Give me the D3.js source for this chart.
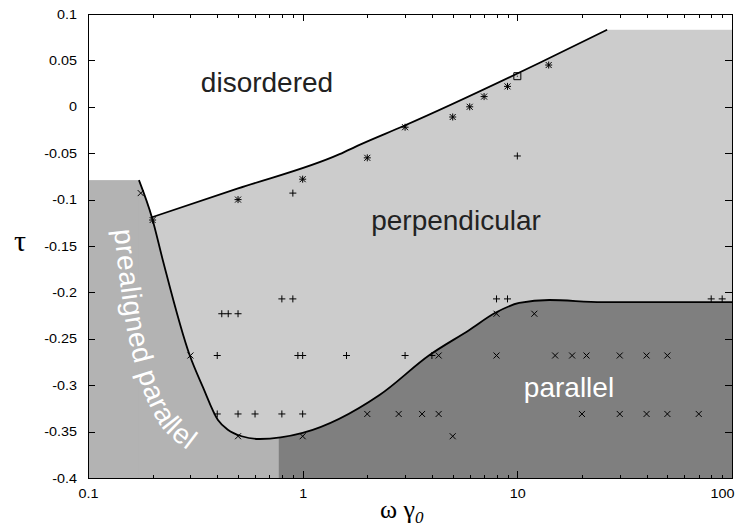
<!DOCTYPE html>
<html>
<head>
<meta charset="utf-8">
<script src="https://cdn.jsdelivr.net/npm/d3@7"></script>
<style>
  body { margin: 0; background: #fff; }
  text { font-family: "Liberation Sans", Arial, sans-serif; }
</style>
</head>
<body>
<script>
    // axis ticks
    const xTicks = [0.1, 1, 10, 100];
    const xTickLabels = ["0.1", "1", "10", "100"];
    const xMinor = [0.2, 0.3, 0.4, 0.5, 0.6, 0.7, 0.8, 0.9, 2, 3, 4, 5, 6, 7, 8, 9, 20, 30, 40, 50, 60, 70, 80, 90];
    const yTicks = [-0.4, -0.35, -0.3, -0.25, -0.2, -0.15, -0.1, -0.05, 0, 0.05, 0.1];
    const yTickLabels = ["-0.4", "-0.35", "-0.3", "-0.25", "-0.2", "-0.15", "-0.1", "-0.05", "0", "0.05", "0.1"];

    // phase boundaries (omega*gamma0, tau)
    const upperBoundary = [[0.1985, -0.119], [0.5, -0.088], [1.486, -0.051], [1.84, -0.041], [2.95, -0.0207], [12.65, 0.0472], [26.2, 0.083]];
    const upperPlateau = 0.083;
    const lowerBoundary = [[0.1727, -0.079], [0.199, -0.12], [0.223, -0.165], [0.298, -0.268], [0.343, -0.302], [0.403, -0.3375],
        [0.448, -0.348], [0.52, -0.355], [0.63, -0.358], [1.0, -0.3515], [2.28, -0.3106], [3.9, -0.2675], [5.98, -0.2405],
        [7.9, -0.222], [10.2, -0.2114], [14.1, -0.2082], [24.8, -0.2104], [100, -0.2104]];
    const prealignedTop = -0.079;
    const parallelLeft = 0.774;

    // simulation points
    const plusPts = [[0.9, -0.093], [10, -0.053], [0.8, -0.207], [0.9, -0.207], [8, -0.207], [9, -0.207], [80, -0.207], [90, -0.207],
        [0.42, -0.223], [0.45, -0.223], [0.5, -0.223], [0.4, -0.268], [0.95, -0.268], [1, -0.268], [1.6, -0.268], [3, -0.268], [4, -0.268],
        [0.4, -0.331], [0.5, -0.331], [0.6, -0.331], [0.8, -0.331], [1, -0.331]];
    const crossPts = [[0.176, -0.093], [0.3, -0.268], [0.5, -0.355], [1, -0.355], [5, -0.355],
        [2, -0.331], [2.8, -0.331], [3.6, -0.331], [4.3, -0.331], [20, -0.331], [30, -0.331], [40, -0.331], [50, -0.331], [70, -0.331],
        [4.3, -0.268], [8, -0.268], [15, -0.268], [18, -0.268], [21, -0.268], [30, -0.268], [40, -0.268], [50, -0.268],
        [8, -0.223], [12, -0.223]];
    const starPts = [[0.2, -0.122], [0.5, -0.1], [1, -0.078], [2, -0.055], [3, -0.022], [5, -0.011], [6, 0], [7, 0.011], [9, 0.022], [14, 0.045]];
    const squarePts = [[10, 0.033]];

    // baseline of the curved label along the prealigned boundary
    const prealignedLabelPath = [[0.1321, -0.1328], [0.1424, -0.1974], [0.1535, -0.2459], [0.1672, -0.2815], [0.1901, -0.3181], [0.2257, -0.3483], [0.2981, -0.372]];

    const width = 746, height = 527;
    const x = d3.scaleLog().domain([0.1, 100]).range([88, 732]);
    const y = d3.scaleLinear().domain([-0.4, 0.1]).range([478, 14]);

    const svg = d3.select('body').append('svg').attr('width', width).attr('height', height);
    const defs = svg.append('defs');
    defs.append('clipPath').attr('id', 'plot-clip')
        .append('rect').attr('x', x(0.1)).attr('y', y(0.1)).attr('width', x(100) - x(0.1)).attr('height', y(-0.4) - y(0.1));
    defs.append('clipPath').attr('id', 'parallel-clip')
        .append('rect').attr('x', x(parallelLeft)).attr('y', y(0.1)).attr('width', x(100) - x(parallelLeft)).attr('height', y(-0.4) - y(0.1));

    const g = svg.append('g').attr('clip-path', 'url(#plot-clip)');

    // perpendicular region
    const underUpper = d3.area().x(d => x(d[0])).y0(y(-0.4)).y1(d => y(d[1])).curve(d3.curveMonotoneX);
    g.append('path')
        .attr('d', underUpper(upperBoundary))
        .attr('fill', '#cccccc');
    const plateauStart = x(upperBoundary[upperBoundary.length - 1][0]) - 1.5;
    g.append('rect')
        .attr('x', plateauStart).attr('y', y(upperPlateau))
        .attr('width', x(100) - plateauStart).attr('height', y(-0.4) - y(upperPlateau))
        .attr('fill', '#cccccc');

    // prealigned parallel region
    const underLower = d3.area().x(d => x(d[0])).y0(y(-0.4)).y1(d => y(d[1])).curve(d3.curveMonotoneX);
    g.append('rect')
        .attr('x', x(0.1)).attr('y', y(prealignedTop))
        .attr('width', x(lowerBoundary[0][0]) - x(0.1) + 0.5).attr('height', y(-0.4) - y(prealignedTop))
        .attr('fill', '#b3b3b3');
    g.append('path').attr('d', underLower(lowerBoundary)).attr('fill', '#b3b3b3');

    // parallel region
    g.append('path').attr('d', underLower(lowerBoundary)).attr('fill', '#7f7f7f')
        .attr('clip-path', 'url(#parallel-clip)');

    // boundary lines
    g.append('path')
        .attr('d', d3.line().x(d => x(d[0])).y(d => y(d[1])).curve(d3.curveMonotoneX)(upperBoundary))
        .attr('fill', 'none').attr('stroke', '#000').attr('stroke-width', 1.8);
    g.append('path')
        .attr('d', d3.line().x(d => x(d[0])).y(d => y(d[1])).curve(d3.curveMonotoneX)(lowerBoundary))
        .attr('fill', 'none').attr('stroke', '#000').attr('stroke-width', 1.8);

    // markers
    const plusD = s => `M${-s},0H${s}M0,${-s}V${s}`;
    const crossD = s => `M${-s},${-s}L${s},${s}M${-s},${s}L${s},${-s}`;
    function drawMarks(data, d) {
        g.append('g').selectAll('path').data(data).enter().append('path')
            .attr('transform', p => `translate(${x(p[0])},${y(p[1])})`)
            .attr('d', d)
            .attr('fill', 'none').attr('stroke', '#000').attr('stroke-width', 1);
    }
    drawMarks(plusPts, plusD(3.5));
    drawMarks(crossPts, crossD(3));
    drawMarks(starPts, plusD(3.5) + crossD(3));
    drawMarks(squarePts, 'M-3.5,-3.5H3.5V3.5H-3.5Z M-0.5,0H0.5');

    // region labels
    g.append('text').attr('x', 267).attr('y', 92).attr('text-anchor', 'middle')
        .attr('font-size', 28).attr('fill', '#222').text('disordered');
    g.append('text').attr('x', 456).attr('y', 230).attr('text-anchor', 'middle')
        .attr('font-size', 28).attr('fill', '#222').text('perpendicular');
    g.append('text').attr('x', 569).attr('y', 397).attr('text-anchor', 'middle')
        .attr('font-size', 28).attr('fill', '#fff').text('parallel');
    const labelPath = defs.append('path').attr('id', 'prealigned-path')
        .attr('d', d3.line().x(d => x(d[0])).y(d => y(d[1])).curve(d3.curveCatmullRom)(prealignedLabelPath));
    g.append('text').attr('font-size', 28).attr('fill', '#fff')
        .append('textPath').attr('href', '#prealigned-path')
        .attr('textLength', labelPath.node().getTotalLength() - 3)
        .text('prealigned parallel');

    // axes
    const axes = svg.append('g').attr('shape-rendering', 'crispEdges');
    const yLeft = axes.append('g').attr('transform', `translate(${x(0.1)},0)`)
        .call(d3.axisLeft(y).tickValues(yTicks).tickSize(-7).tickPadding(11).tickFormat((d, i) => yTickLabels[i]));
    axes.append('g').attr('transform', `translate(${x(100)},0)`)
        .call(d3.axisRight(y).tickValues(yTicks).tickSize(-7).tickFormat(''));
    const xBottom = axes.append('g').attr('transform', `translate(0,${y(-0.4)})`)
        .call(d3.axisBottom(x).tickValues(xTicks).tickSize(-7).tickPadding(11).tickFormat((d, i) => xTickLabels[i]));
    axes.append('g').attr('transform', `translate(0,${y(-0.4)})`)
        .call(d3.axisBottom(x).tickValues(xMinor).tickSize(-3.5).tickFormat(''));
    axes.append('g').attr('transform', `translate(0,${y(0.1)})`)
        .call(d3.axisTop(x).tickValues(xTicks).tickSize(-7).tickFormat(''));
    axes.append('g').attr('transform', `translate(0,${y(0.1)})`)
        .call(d3.axisTop(x).tickValues(xMinor).tickSize(-3.5).tickFormat(''));
    axes.selectAll('.domain').remove();
    axes.selectAll('.tick line').attr('stroke', '#000');
    axes.selectAll('.tick text').attr('font-family', '"Liberation Sans", Arial, sans-serif')
        .attr('font-size', 12.5).attr('fill', '#000');
    // tick font in the figure is a little wider than Arial
    yLeft.selectAll('.tick text').attr('x', -11 / 1.15).attr('transform', 'scale(1.15,1)');
    xBottom.selectAll('.tick text').attr('transform', 'scale(1.15,1)');
    xBottom.selectAll('.tick text').filter((d, i) => i === xTicks.length - 1)
        .attr('text-anchor', 'end').attr('x', 2 / 1.15);

    axes.append('rect')
        .attr('x', x(0.1)).attr('y', y(0.1))
        .attr('width', x(100) - x(0.1)).attr('height', y(-0.4) - y(0.1))
        .attr('fill', 'none').attr('stroke', '#000').attr('stroke-width', 1);

    // axis titles
    svg.append('text').attr('x', 14).attr('y', 251)
        .style('font-family', '"Liberation Serif", "Times New Roman", serif').attr('font-size', 30)
        .text('τ');
    const xt = svg.append('text').attr('x', 380).attr('y', 518)
        .style('font-family', '"Liberation Serif", "Times New Roman", serif').attr('font-size', 26);
    xt.append('tspan').text('ω γ');
    xt.append('tspan').attr('font-style', 'italic').attr('font-size', 17).attr('dy', 5).text('0');
</script>
</body>
</html>
